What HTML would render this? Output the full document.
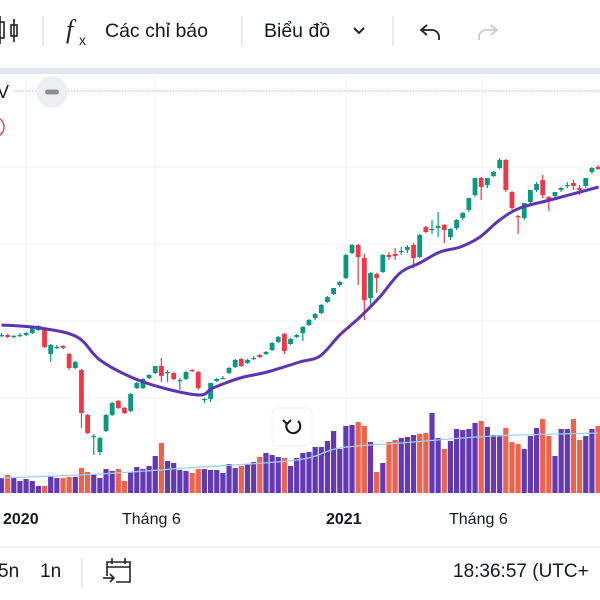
<!DOCTYPE html>
<html><head><meta charset="utf-8">
<style>
html,body{margin:0;padding:0;background:#fff;width:600px;height:600px;overflow:hidden;font-family:"Liberation Sans","Noto Sans CJK SC",sans-serif;}
svg{position:absolute;left:0;top:0}
</style></head>
<body>
<svg width="600" height="600" viewBox="0 0 600 600">
  <g>
    <rect x="0" y="0" width="600" height="68" fill="#fff"/>
    <g stroke="#222" stroke-width="1.6" fill="none">
      <rect x="-4" y="22" width="8" height="16"/><line x1="0" y1="16" x2="0" y2="44"/>
      <rect x="11" y="25" width="6" height="11"/><line x1="14" y1="19" x2="14" y2="42"/>
    </g>
    <line x1="43" y1="16" x2="43" y2="46" stroke="#e0e3eb" stroke-width="1.5"/>
    <g>
      <text x="66" y="38" font-family="Liberation Serif, serif" font-style="italic" font-size="26" fill="#222">f</text>
      <text x="79" y="45" font-size="14" fill="#222">x</text>
      <text x="105" y="37" font-size="19.5" fill="#131722">Các chỉ báo</text>
    </g>
    <line x1="242" y1="16" x2="242" y2="46" stroke="#e0e3eb" stroke-width="1.5"/>
    <g>
      <text x="264" y="37" font-size="19.5" fill="#131722">Biểu đồ</text>
      <polyline points="354,28 359,33 364,28" fill="none" stroke="#222" stroke-width="2"/>
    </g>
    <line x1="393" y1="16" x2="393" y2="46" stroke="#e0e3eb" stroke-width="1.5"/>
    <g fill="none" stroke="#222" stroke-width="1.8">
      <path d="M423 30 H432 A7 7 0 0 1 439 37 V40"/><polyline points="427,25 421,30 427,35"/>
    </g>
    <g fill="none" stroke="#c8cad1" stroke-width="1.8">
      <path d="M495 30 H486 A7 7 0 0 0 479 37 V40"/><polyline points="491,25 497,30 491,35"/>
    </g>
  </g>
  <rect x="0" y="68" width="600" height="6" fill="#e3e5ec"/>

  <g id="grid" stroke="#f0f1f4" stroke-width="1"></g>

  <g>
    <text x="-3" y="98" font-size="18" fill="#131722">V</text>
    <circle cx="-6" cy="127" r="10" fill="none" stroke="#f23645" stroke-width="1.4"/>
  </g>
  <line x1="14" y1="91" x2="600" y2="91" stroke="#e8a0a0" stroke-width="1" stroke-dasharray="1.5,1.5"/>
  <g>
    <circle cx="52" cy="92" r="16" fill="#eeeff2"/>
    <rect x="45" y="89.5" width="14" height="5" rx="2.5" fill="#8a8d96"/>
  </g>

  <g id="volumes"></g>
  <path id="volma" fill="none" stroke="#9ecff0" stroke-width="1.3"/>
  <g id="candles"></g>
  <path id="ma" fill="none" stroke="#5e35b1" stroke-width="3" stroke-linejoin="round"/>

  <g>
    <rect x="272" y="408" width="40" height="38" rx="6" fill="#fff" stroke="#eceef2" stroke-width="1"/>
    <path d="M298 421 A7 7 0 1 1 287 423" fill="none" stroke="#131722" stroke-width="2"/>
    <polyline points="283,420 287,424 291,420" fill="none" stroke="#131722" stroke-width="2"/>
  </g>

  <g font-size="16" fill="#131722">
    <text x="3" y="524" font-weight="bold">2020</text>
    <text x="122" y="524">Tháng 6</text>
    <text x="326" y="524" font-weight="bold">2021</text>
    <text x="449" y="524">Tháng 6</text>
  </g>
  <line x1="0" y1="547" x2="600" y2="547" stroke="#e9ebef" stroke-width="1.5"/>
  <g font-size="19" fill="#131722">
    <text x="-2" y="577">5n</text>
    <text x="40" y="577">1n</text>
    <line x1="82" y1="558" x2="82" y2="588" stroke="#e0e3eb" stroke-width="1.5"/>
    <g fill="none" stroke="#222" stroke-width="1.6">
      <path d="M107 576 V562 H130 V582 H116"/><line x1="107" y1="567" x2="130" y2="567"/>
      <line x1="112" y1="558" x2="112" y2="564"/><line x1="125" y1="558" x2="125" y2="564"/>
      <line x1="103" y1="578" x2="114" y2="578"/><polyline points="110,574 114,578 110,582"/>
    </g>
    <text x="453" y="577">18:36:57 (UTC+</text>
  </g>
</svg>
<script>
// price data [open, high, low, close]
const candles = [
[165,167,163,165],[165,166,162,163],[164,165,162,164],[165,167,163,165],[165,168,164,167],
[167,173,166,172],[170,175,169,174],[171,172,152,153],[146,156,138,155],[153,155,151,153],
[154,155,151,152],[146,147,130,132],[132,139,131,138],[130,131,72,87],[85,86,66,67],
[63,66,45,64],[48,63,45,62],[69,86,68,85],[85,98,84,97],[99,100,91,92],
[92,93,86,87],[89,107,88,106],[112,118,111,117],[112,122,111,121],[122,126,121,125],
[127,134,126,134],[134,142,118,124],[128,130,118,128],[127,128,120,121],[120,122,110,120],
[121,129,120,128],[130,131,128,129],[128,129,110,112],[100,102,97,101],[101,117,98,117],
[119,122,118,121],[122,124,121,122],[127,133,126,132],[133,141,132,140],[141,142,133,134],
[137,141,136,140],[142,144,140,142],[145,146,142,143],[146,149,145,148],[150,158,149,157],
[158,164,157,163],[166,167,146,149],[156,162,155,161],[163,166,162,165],[167,174,159,173],
[175,181,174,180],[182,187,180,186],[187,196,186,195],[198,204,197,203],[206,212,205,212],
[215,219,213,218],[222,246,221,245],[247,256,246,255],[255,256,215,243],[242,246,180,200],
[202,228,192,227],[226,227,207,222],[228,246,227,245],[245,248,240,243],[246,252,240,244],
[249,253,245,249],[250,255,247,253],[255,257,232,242],[243,266,242,265],[273,274,267,268],
[271,280,266,271],[272,288,263,274],[275,276,257,270],[263,272,260,271],[272,281,270,280],
[282,288,280,287],[290,302,288,302],[305,322,303,322],[322,323,300,313],[315,322,312,322],
[324,329,323,328],[332,342,331,340],[340,341,308,310],[308,309,290,292],[284,285,266,283],
[282,297,280,297],[298,310,296,310],[310,318,308,316],[320,325,302,305],[303,304,289,300],
[304,308,302,308],[310,313,308,312],[315,318,312,315],[317,320,310,314],[312,315,305,310],
[314,322,312,322],[328,333,326,332],[333,335,330,331]];
const volumes = [15,18,15,12,14,12,7,7,17,15,15,16,16,25,21,19,15,24,22,24,12,21,26,24,27,37,50,32,30,23,22,20,24,24,23,23,20,29,25,27,29,31,36,40,38,36,35,27,35,
40,41,46,46,52,62,44,67,68,71,67,51,21,30,51,53,55,56,58,59,60,80,55,44,52,64,63,64,70,72,66,58,58,65,51,49,44,57,65,74,57,37,64,64,74,53,57,64,67];
const volDir = "POPPPPPOPPOOPOOPPPPOOPPPPPOPPPPOOPPPPPPOPPOPPPOPP"+"PPPPPPPPPOOPOPOOPPPOOPPOPPPPPOPPPOOOPPPOOPPPOOPPOP";
const maIdx = [0,6.3,12.3,16,21.4,26.9,32.3,34.4,38.8,43.2,48.5,51.8,55,58.3,61.5,64.8,68,71.3,74.6,77.8,81,84.3,89.2,97.1];
const maVal = [175,172,163,140,122,111,105,112,122,128,138,144,165,183,203,227,237,248,253,263,280,292,300,313];
const volMaIdx = [0,16,30,48,55,65,80,97];
const volMaVal = [15,19,25,33,45,50,57,60];
const gridX = [26,155,346,482];
const gridY = [167,244,321,398];

const NS = "http://www.w3.org/2000/svg";
const xS = i => 1.5 + i * 6.15;
const yS = p => 500 - p;
const vS = v => 493 - v;
function mk(tag, attrs, parent){ const e = document.createElementNS(NS, tag); for (const k in attrs) e.setAttribute(k, attrs[k]); parent.appendChild(e); return e; }
function smooth(pts){
  let d = 'M' + pts[0][0] + ' ' + pts[0][1];
  for (let k = 0; k < pts.length - 1; k++){
    const p0 = pts[Math.max(0, k-1)], p1 = pts[k], p2 = pts[k+1], p3 = pts[Math.min(pts.length-1, k+2)];
    const c1x = p1[0] + (p2[0]-p0[0])/6, c1y = p1[1] + (p2[1]-p0[1])/6;
    const c2x = p2[0] - (p3[0]-p1[0])/6, c2y = p2[1] - (p3[1]-p1[1])/6;
    d += ' C' + c1x + ' ' + c1y + ' ' + c2x + ' ' + c2y + ' ' + p2[0] + ' ' + p2[1];
  }
  return d;
}

const grid = document.getElementById('grid');
gridX.forEach(x => { const l = mk('line', {x1:x, y1:75, x2:x, y2:495}, grid);
  
   });
gridY.forEach(y => { const l = mk('line', {x1:0, y1:y, x2:600, y2:y}, grid);
  
   });

const vg = document.getElementById('volumes');
volumes.forEach((v, i) => {
  const r = mk('rect', {x: xS(i) - 2.6, y: vS(v), width: 5.2, height: 493 - vS(v), fill: volDir[i] === 'O' ? '#f2614a' : '#6239b5'}, vg);
  
  
});
document.getElementById('volma').setAttribute('d', smooth(volMaIdx.map((i, k) => [xS(i), vS(volMaVal[k])])));

const cg = document.getElementById('candles');
candles.forEach((c, i) => {
  const [o, h, l, cl] = c;
  const col = cl >= o ? '#089981' : '#f23645';
  const g = mk('g', {}, cg);
  
  
  const x = xS(i);
  mk('line', {x1: x, x2: x, y1: yS(h), y2: yS(l), stroke: col, 'stroke-width': 1.2}, g);
  const top = yS(Math.max(o, cl)), bot = yS(Math.min(o, cl));
  mk('rect', {x: x - 2.4, y: top, width: 4.8, height: Math.max(1.2, bot - top), fill: col}, g);
});
document.getElementById('ma').setAttribute('d', smooth(maIdx.map((i, k) => [xS(i), yS(maVal[k])])));
</script>
</body></html>
